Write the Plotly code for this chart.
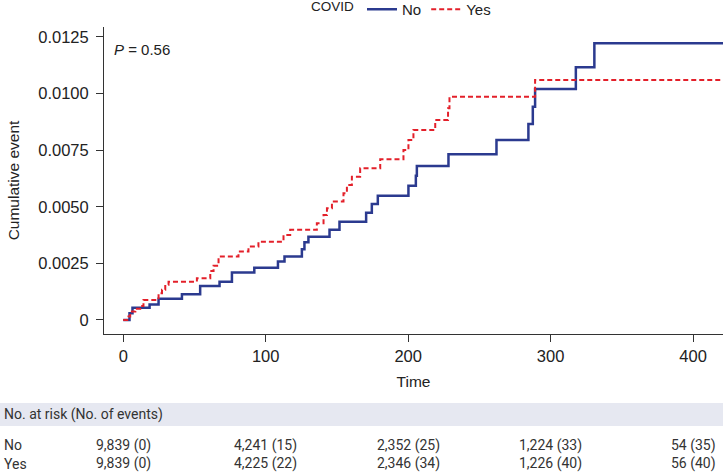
import plotly.graph_objects as go

# ---- data ----
no_time = [0, 4.4, 6.5, 18.5, 24.8, 41.2, 54, 67.6, 76.3, 92, 108.6, 113.2, 125.4, 127.2, 130,
           144.8, 151.8, 170.5, 174.5, 178.7, 200.2, 205.4, 206.1, 228.3, 262, 284.4, 287.5,
           289.1, 317.7, 330.7, 425]
no_cum = [0, 0.0003, 0.00054, 0.00068, 0.00094, 0.00114, 0.0015, 0.00169, 0.0021, 0.00231,
          0.00258, 0.0028, 0.00312, 0.00343, 0.00368, 0.00398, 0.00434, 0.00474, 0.00512,
          0.00549, 0.00593, 0.00637, 0.0068, 0.00732, 0.00795, 0.00866, 0.00942, 0.0102,
          0.01116, 0.01222, 0.01222]

yes_time = [0, 3.7, 4.9, 8.5, 11.9, 14.2, 24.8, 27.2, 29.5, 31.8, 51.7, 61.1, 63.4, 66.9,
            80.9, 87.9, 94.9, 112.5, 117.2, 135.9, 140.6, 143, 146.5, 154.6, 157, 160.5,
            166.3, 180.4, 196.7, 200.2, 203.7, 219, 228, 229, 289.1, 425]
yes_cum = [0, 0.00015, 0.00037, 0.0005, 0.00062, 0.00088, 0.00118, 0.00133, 0.00155, 0.00169,
           0.00184, 0.00216, 0.00239, 0.0028, 0.00302, 0.00324, 0.00346, 0.00375, 0.00398,
           0.00427, 0.00464, 0.00493, 0.00523, 0.0056, 0.00596, 0.00633, 0.0067, 0.0071,
           0.00751, 0.00795, 0.00839, 0.00883, 0.00935, 0.00986, 0.0106, 0.0106]

x_ticks = [0, 100, 200, 300, 400]
y_ticks = [0, 0.0025, 0.005, 0.0075, 0.01, 0.0125]
y_tick_labels = ["0", "0.0025", "0.0050", "0.0075", "0.0100", "0.0125"]

risk_times = [0, 100, 200, 300, 400]
risk_no = ["9,839 (0)", "4,241 (15)", "2,352 (25)", "1,224 (33)", "54 (35)"]
risk_yes = ["9,839 (0)", "4,225 (22)", "2,346 (34)", "1,226 (40)", "56 (40)"]

BLUE = "#2B3A8F"
RED = "#E3202A"
FONT = "Liberation Sans, Arial, sans-serif"
TFONT = "Roboto, Liberation Sans, sans-serif"

fig = go.Figure()
fig.add_trace(go.Scatter(x=no_time, y=no_cum, mode="lines", name="No",
                         line=dict(color=BLUE, width=2.5, shape="hv")))
fig.add_trace(go.Scatter(x=yes_time, y=yes_cum, mode="lines", name="Yes",
                         line=dict(color=RED, width=2, shape="hv", dash="5px,3px")))

W, H = 723, 472
L, R, T, B = 104, 0, 27, 138
pw, ph = W - L - R, H - T - B

def py(pix):
    # pixel row -> paper y
    return (H - B - pix) / ph

fig.update_layout(
    width=W, height=H,
    margin=dict(l=L, r=R, t=T, b=B, pad=0, autoexpand=False),
    paper_bgcolor="white", plot_bgcolor="white",
    font=dict(family=FONT, size=15, color="#222"),
    showlegend=True,
    legend=dict(orientation="h", x=(309 - L) / pw, xanchor="left", y=1 + 1 / ph,
                yanchor="bottom",
                title=dict(text="COVID", font=dict(size=13.5, family=FONT)),
                font=dict(size=15, family=FONT), bgcolor="rgba(0,0,0,0)",
                itemwidth=30, tracegroupgap=0),
    xaxis=dict(range=[-13.5, 421], tickvals=x_ticks, showgrid=False, zeroline=False,
               showline=True, linecolor="#333", linewidth=1, ticks="outside", ticklen=7,
               tickcolor="#333", tickfont=dict(size=16.5, family=FONT),
               title=dict(text="Time", font=dict(size=15.5, family=FONT), standoff=12)),
    yaxis=dict(range=[-0.00062, 0.01294], tickvals=y_ticks, ticktext=y_tick_labels,
               showgrid=False, zeroline=False, showline=True, linecolor="#333", linewidth=1,
               ticks="outside", ticklen=7, tickcolor="#333", tickfont=dict(size=16.5, family=FONT),
               ticklabelstandoff=4,
               title=dict(text="Cumulative event", font=dict(size=15.5, family=FONT), standoff=14)),
)

fig.add_annotation(text="<i>P</i> = 0.56", xref="paper", yref="paper",
                   x=(112 - L) / pw, y=py(49), xanchor="left", yanchor="middle",
                   showarrow=False, font=dict(size=15, family=FONT, color="#222"))

# risk table band
fig.add_shape(type="rect", xref="paper", yref="paper", x0=-L / pw, x1=1.0,
              y0=py(426), y1=py(403), fillcolor="#E6E8F1", line=dict(width=0), layer="below")
fig.add_annotation(text="No. at risk (No. of events)", xref="paper", yref="paper",
                   x=(2 - L) / pw, y=py(414), xanchor="left", yanchor="middle",
                   showarrow=False, font=dict(size=14, family=TFONT, color="#333"))
for lbl, row, ypix in [("No", risk_no, 445), ("Yes", risk_yes, 463.5)]:
    fig.add_annotation(text=lbl, xref="paper", yref="paper", x=(2 - L) / pw, y=py(ypix),
                       xanchor="left", yanchor="middle", showarrow=False,
                       font=dict(size=14, family=TFONT, color="#333"))
    for t, v in zip(risk_times, row):
        fig.add_annotation(text=v, xref="x", yref="paper", x=t, y=py(ypix),
                           xanchor="center", yanchor="middle", showarrow=False,
                           font=dict(size=14, family=TFONT, color="#333"))

fig.write_html("out.html", config={"displayModeBar": False},
               post_script="document.body.style.margin='0';document.body.style.overflow='hidden';")
